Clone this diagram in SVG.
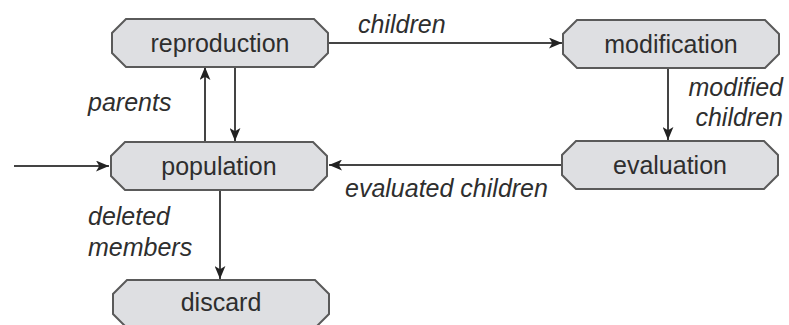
<svg xmlns="http://www.w3.org/2000/svg" width="789" height="325" viewBox="0 0 789 325">
  <style>
    .node { fill: #dedfe2; stroke: #5a5a5a; stroke-width: 2; }
    .nlabel { font-family: "Liberation Sans", Arial, sans-serif; font-size: 25px; fill: #2e2e2e; text-anchor: middle; }
    .elabel { font-family: "Liberation Sans", Arial, sans-serif; font-size: 25px; font-style: italic; fill: #2e2e2e; }
    .edge { fill: none; stroke: #444444; stroke-width: 2; }
  </style>
  <defs>
    <marker id="arrow" viewBox="0 0 12 10" refX="12" refY="5" markerWidth="13" markerHeight="11" markerUnits="userSpaceOnUse" orient="auto">
      <path d="M0,0 L12,5 L0,10 L3,5 Z" fill="#222222"/>
    </marker>
    <!-- chamfered box, 216 x 48, origin at top-left -->
    <path id="box" d="M14,0 H202 L216,14 V34 L202,48 H14 L0,34 V14 Z"/>
  </defs>

  <rect width="789" height="325" fill="#ffffff"/>

  <!-- connectors -->
  <g id="connectors">
    <line class="edge" x1="328" y1="43" x2="562" y2="43" marker-end="url(#arrow)"/>
    <line class="edge" x1="668" y1="67" x2="668" y2="140" marker-end="url(#arrow)"/>
    <line class="edge" x1="562" y1="165" x2="329" y2="165" marker-end="url(#arrow)"/>
    <line class="edge" x1="205" y1="142" x2="205" y2="67" marker-end="url(#arrow)"/>
    <line class="edge" x1="235" y1="66" x2="235" y2="141" marker-end="url(#arrow)"/>
    <line class="edge" x1="14" y1="166" x2="109" y2="166" marker-end="url(#arrow)"/>
    <line class="edge" x1="220" y1="191" x2="220" y2="279" marker-end="url(#arrow)"/>

    <text class="elabel" x="358" y="33">children</text>
    <text class="elabel" x="783" y="96" text-anchor="end">modified</text>
    <text class="elabel" x="783" y="126" text-anchor="end">children</text>
    <text class="elabel" x="345" y="197">evaluated children</text>
    <text class="elabel" x="88" y="111">parents</text>
    <text class="elabel" x="88" y="225">deleted</text>
    <text class="elabel" x="88" y="256">members</text>
  </g>

  <g id="reproduction">
    <use href="#box" class="node" x="112" y="19"/>
    <text class="nlabel" x="220" y="52">reproduction</text>
  </g>

  <g id="modification">
    <use href="#box" class="node" x="563" y="20"/>
    <text class="nlabel" x="671" y="53">modification</text>
  </g>

  <g id="population">
    <use href="#box" class="node" x="111" y="142"/>
    <text class="nlabel" x="219" y="175">population</text>
  </g>

  <g id="evaluation">
    <use href="#box" class="node" x="562" y="141"/>
    <text class="nlabel" x="670" y="174">evaluation</text>
  </g>

  <g id="discard">
    <use href="#box" class="node" x="113" y="280"/>
    <text class="nlabel" x="221" y="311">discard</text>
  </g>
</svg>
